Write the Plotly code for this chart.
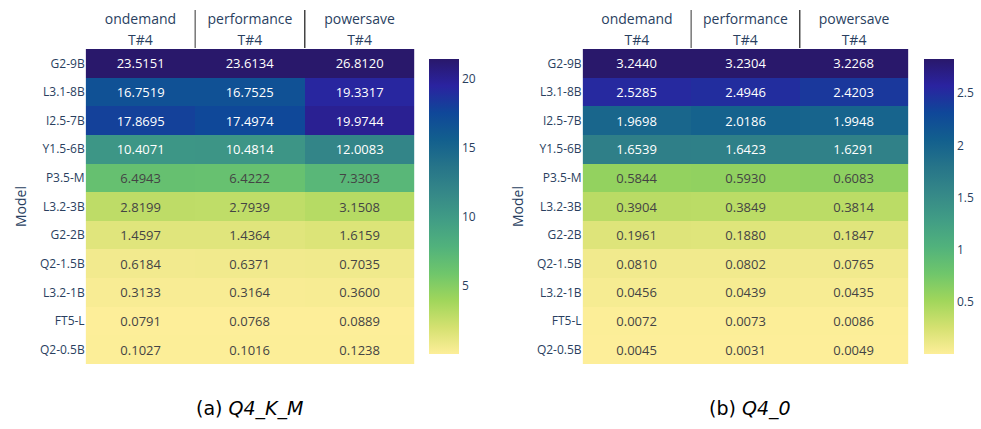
import plotly.graph_objects as go

models = ["G2-9B", "L3.1-8B", "I2.5-7B", "Y1.5-6B", "P3.5-M", "L3.2-3B",
          "G2-2B", "Q2-1.5B", "L3.2-1B", "FT5-L", "Q2-0.5B"]
governors = ["ondemand", "performance", "powersave"]
threads = ["T#4", "T#4", "T#4"]

q4km = [
    [23.5151, 23.6134, 26.8120],
    [16.7519, 16.7525, 19.3317],
    [17.8695, 17.4974, 19.9744],
    [10.4071, 10.4814, 12.0083],
    [6.4943, 6.4222, 7.3303],
    [2.8199, 2.7939, 3.1508],
    [1.4597, 1.4364, 1.6159],
    [0.6184, 0.6371, 0.7035],
    [0.3133, 0.3164, 0.3600],
    [0.0791, 0.0768, 0.0889],
    [0.1027, 0.1016, 0.1238],
]
q40 = [
    [3.2440, 3.2304, 3.2268],
    [2.5285, 2.4946, 2.4203],
    [1.9698, 2.0186, 1.9948],
    [1.6539, 1.6423, 1.6291],
    [0.5844, 0.5930, 0.6083],
    [0.3904, 0.3849, 0.3814],
    [0.1961, 0.1880, 0.1847],
    [0.0810, 0.0802, 0.0765],
    [0.0456, 0.0439, 0.0435],
    [0.0072, 0.0073, 0.0086],
    [0.0045, 0.0031, 0.0049],
]
captions = ["(a) <i>Q4_K_M</i>", "(b) <i>Q4_0</i>"]
zranges = [(0.0768, 21.42), (0.0031, 2.826)]

W, H = 981, 429
panels = [
    dict(x0=86, x1=416, cb=421),
    dict(x0=585, x1=912, cb=918),
]
top, bottom = 49, 364

fig = go.Figure()
for i, (data, p, zr) in enumerate(zip([q4km, q40], panels, zranges)):
    suffix = "" if i == 0 else "2"
    fig.add_trace(go.Heatmap(
        z=data,
        x=[governors, threads],
        y=models,
        colorscale="haline",
        reversescale=True,
        zmin=zr[0], zmax=zr[1],
        texttemplate="%{z:.4f}",
        textfont=dict(size=13),
        xaxis="x" + suffix, yaxis="y" + suffix,
        colorbar=dict(
            x=p["cb"] / W, xanchor="left", xpad=10,
            y=(H - (top + bottom) / 2) / H, yanchor="middle",
            lenmode="pixels", len=bottom - top, ypad=10,
            thickness=30, outlinewidth=0,
            tickfont=dict(size=12, color="#2a3f5f"),
        ),
    ))

layout = dict(
    width=W, height=H,
    margin=dict(l=0, r=0, t=0, b=0),
    paper_bgcolor="white", plot_bgcolor="white",
    font=dict(family="Open Sans", color="#2a3f5f"),
    showlegend=False,
)
shapes = []
for i, p in enumerate(panels):
    suffix = "" if i == 0 else "2"
    layout["xaxis" + suffix] = dict(
        domain=[p["x0"] / W, p["x1"] / W],
        anchor="y" + suffix, side="top", type="multicategory",
        tickfont=dict(size=14), showgrid=False, zeroline=False,
        showdividers=False, ticks="outside", ticklen=6, tickcolor="rgba(0,0,0,0)",
    )
    layout["yaxis" + suffix] = dict(
        domain=[(H - bottom) / H, (H - top) / H],
        anchor="x" + suffix, autorange="reversed",
        tickfont=dict(size=12), showgrid=False, zeroline=False,
        title=dict(text="Model", font=dict(size=14), standoff=10),
    )
    # dividers between column header groups
    for k in (0.5, 1.5):
        shapes.append(dict(
            type="line", xref="x" + suffix + " domain", yref="paper",
            x0=(k + 0.5) / 3, x1=(k + 0.5) / 3, y0=(H - 48) / H, y1=(H - 10) / H,
            line=dict(color="#444" if k > 1 else "#777", width=1.5),
        ))
layout["shapes"] = shapes
fig.update_layout(**layout)

for cap, cx in zip(captions, [251, 753]):
    fig.add_annotation(
        text=cap, x=cx / W, y=(H - 408) / H, xref="paper", yref="paper",
        xanchor="center", yanchor="middle", showarrow=False,
        font=dict(family="DejaVu Sans", size=19, color="black"),
    )

fig.write_html("out.html")
